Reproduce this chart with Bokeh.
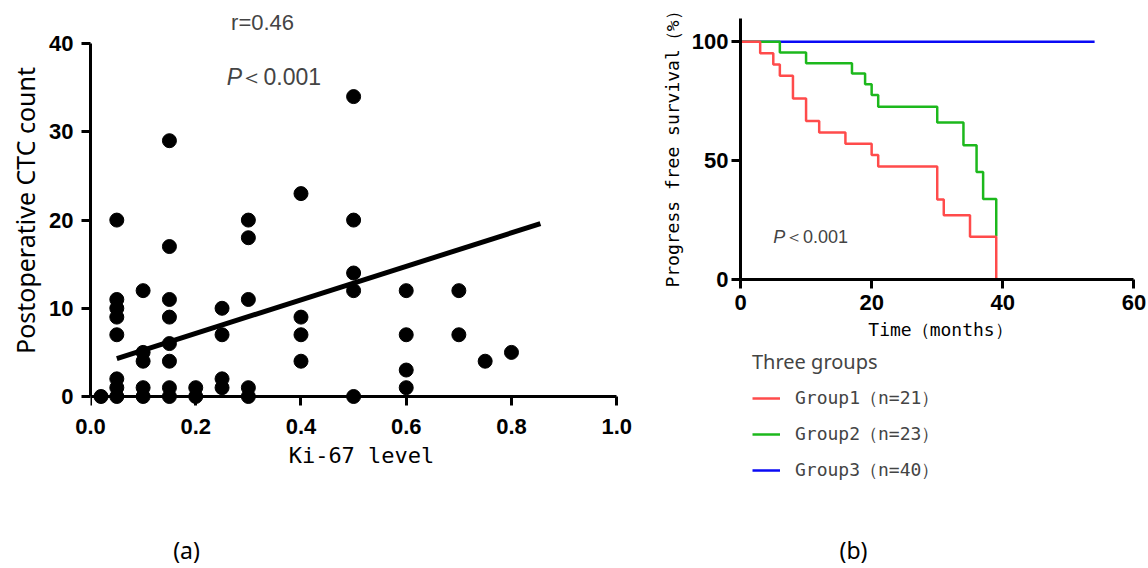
from bokeh.plotting import figure
from bokeh.models import Range1d, Label, Legend, LegendItem, FixedTicker, LinearAxis
from bokeh.layouts import row, column
from bokeh.core.properties import value
from bokeh.embed import file_html
from bokeh.resources import INLINE

# ---------------- data: panel (a) ----------------
ki67_level = [0.02,
              0.05, 0.05, 0.05, 0.05, 0.05, 0.05, 0.05, 0.05,
              0.10, 0.10, 0.10, 0.10, 0.10,
              0.15, 0.15, 0.15, 0.15, 0.15, 0.15, 0.15, 0.15,
              0.20, 0.20,
              0.25, 0.25, 0.25, 0.25,
              0.30, 0.30, 0.30, 0.30, 0.30,
              0.40, 0.40, 0.40, 0.40,
              0.50, 0.50, 0.50, 0.50, 0.50,
              0.60, 0.60, 0.60, 0.60,
              0.70, 0.70,
              0.75,
              0.80]
ctc_count = [0,
             20, 11, 10, 9, 7, 2, 1, 0,
             12, 5, 4, 1, 0,
             29, 17, 11, 9, 6, 4, 1, 0,
             1, 0,
             10, 7, 2, 1,
             20, 18, 11, 1, 0,
             23, 9, 7, 4,
             34, 20, 14, 12, 0,
             12, 7, 3, 1,
             12, 7,
             4,
             5]
fit_x = [0.05, 0.855]
fit_y = [4.3, 19.6]
a_xticks = [0.0, 0.2, 0.4, 0.6, 0.8, 1.0]
a_xtick_labels = ["0.0", "0.2", "0.4", "0.6", "0.8", "1.0"]
a_yticks = [0, 10, 20, 30, 40]

# ---------------- data: panel (b) ----------------
g1_time = [0, 3, 5, 6, 8, 10, 12, 16, 20, 21, 30, 31, 35, 39]
g1_surv = [100, 95.2, 90.5, 85.7, 76.2, 66.7, 61.9, 57.1, 52.4, 47.6, 33.7, 27.0, 18.0, 0]
g2_time = [0, 6, 10, 17, 19, 20, 21, 30, 34, 36, 37, 39]
g2_surv = [100, 95.5, 91.0, 86.7, 82.2, 77.6, 72.7, 66.1, 56.5, 45.2, 33.9, 18.2]
g3_time = [0, 54]
g3_surv = [100, 100]
group_labels = ["Group1（n=21）", "Group2（n=23）", "Group3（n=40）"]
group_colors = ["#FF4B4B", "#1CB81C", "#0A0AF5"]
b_xticks = [0, 20, 40, 60]
b_yticks = [0, 50, 100]

panel_captions = ["(a)", "(b)"]

TICK_FONT = "Liberation Sans"


def style_axis(ax, tick_size="22px"):
    ax.axis_line_width = 3
    ax.major_tick_line_width = 3
    ax.major_tick_out = 9
    ax.major_tick_in = 0
    ax.minor_tick_line_color = None
    ax.major_label_text_font = TICK_FONT
    ax.major_label_text_font_style = "bold"
    ax.major_label_text_font_size = tick_size
    ax.major_label_text_color = "black"
    ax.axis_label_text_font_style = "normal"
    ax.axis_label_text_color = "black"


def clean(p):
    p.xgrid.visible = False
    p.ygrid.visible = False
    p.outline_line_color = None


# ================= panel (a) =================
p1 = figure(frame_width=542, frame_height=400,
            x_range=Range1d(0, 1.03), y_range=Range1d(-1.587, 43.76),
            min_border_left=90, min_border_right=18, min_border_top=10, min_border_bottom=70,
            output_backend="svg", toolbar_location=None)
clean(p1)
style_axis(p1.xaxis[0])
style_axis(p1.yaxis[0])
# label-bearing x axis at the frame bottom (no line / ticks)
p1.xaxis.ticker = FixedTicker(ticks=a_xticks)
p1.xaxis.major_label_overrides = {t: l for t, l in zip(a_xticks, a_xtick_labels)}
p1.xaxis.axis_line_color = None
p1.xaxis.major_tick_line_color = None
p1.xaxis.major_tick_out = 0
p1.xaxis.major_label_standoff = 8
p1.xaxis.axis_label = "Ki-67 level"
p1.xaxis.axis_label_text_font = "DejaVu Sans Mono"
p1.xaxis.axis_label_text_font_size = "22px"
p1.xaxis.axis_label_standoff = 6
# axis line + ticks drawn at y = 0
x0_axis = LinearAxis(fixed_location=0, ticker=FixedTicker(ticks=a_xticks), bounds=(0, 1.0))
style_axis(x0_axis)
x0_axis.major_label_text_color = None
x0_axis.major_label_text_font_size = "1px"
p1.add_layout(x0_axis, "below")

p1.yaxis.ticker = FixedTicker(ticks=a_yticks)
p1.yaxis.bounds = (0, 40)
p1.yaxis.major_label_standoff = 8
p1.yaxis.axis_label = "Postoperative CTC count"
p1.yaxis.axis_label_text_font = "Noto Sans"
p1.yaxis.axis_label_text_font_size = "25px"
p1.yaxis.axis_label_standoff = 4

p1.line(fit_x, fit_y, line_color="black", line_width=5)
p1.scatter(ki67_level, ctc_count, size=14, fill_color="black", line_color="black")

p1.add_layout(Label(x=0.327, y=42.4, text="r=0.46", text_font="Liberation Sans",
                    text_font_size="22px", text_align="center", text_baseline="middle"))
p1.add_layout(Label(x=0.259, y=36.2, text="P", text_font="Liberation Sans",
                    text_font_style="italic", text_font_size="23px",
                    text_align="left", text_baseline="middle"))
p1.add_layout(Label(x=0.285, y=36.2, text="＜0.001", text_font="Liberation Sans",
                    text_font_size="23px", text_align="left", text_baseline="middle"))

# ================= panel (b) =================
p2 = figure(frame_width=400, frame_height=269,
            x_range=Range1d(0, 61), y_range=Range1d(0, 113.2),
            min_border_left=90, min_border_right=6, min_border_top=10, min_border_bottom=67,
            output_backend="svg", toolbar_location=None)
clean(p2)
style_axis(p2.xaxis[0])
style_axis(p2.yaxis[0])
p2.xaxis.ticker = FixedTicker(ticks=b_xticks)
p2.yaxis.ticker = FixedTicker(ticks=b_yticks)
p2.xaxis.bounds = (0, 60)
p2.yaxis.bounds = (0, 110)
p2.xaxis.major_label_standoff = 6
p2.yaxis.major_label_standoff = 3
p2.xaxis.axis_label = "Time（months）"
p2.xaxis.axis_label_text_font = "DejaVu Sans Mono"
p2.xaxis.axis_label_text_font_size = "18px"
p2.xaxis.axis_label_standoff = 6
p2.yaxis.axis_label = "Progress free survival（%）"
p2.yaxis.axis_label_text_font = "DejaVu Sans Mono"
p2.yaxis.axis_label_text_font_size = "18px"
p2.yaxis.axis_label_standoff = 6

p2.step(g3_time, g3_surv, mode="after", line_color=group_colors[2], line_width=2.5)
p2.step(g2_time, g2_surv, mode="after", line_color=group_colors[1], line_width=2.5)
p2.step(g1_time, g1_surv, mode="after", line_color=group_colors[0], line_width=2.5)

p2.add_layout(Label(x=5.0, y=17.8, text="P", text_font="Liberation Sans",
                    text_font_style="italic", text_font_size="18px",
                    text_align="left", text_baseline="middle"))
p2.add_layout(Label(x=6.8, y=17.8, text="＜0.001", text_font="Liberation Sans",
                    text_font_size="18px", text_align="left", text_baseline="middle"))

# ================= legend of panel (b) (own figure, series kept out of view) =================
leg_fig = figure(width=496, height=134, x_range=Range1d(0, 61), y_range=Range1d(-1000, -900),
                 x_axis_type=None, y_axis_type=None, min_border=0, min_border_left=90,
                 output_backend="svg", toolbar_location=None)
leg_fig.outline_line_color = None
l1 = leg_fig.step(g1_time, g1_surv, mode="after", line_color=group_colors[0], line_width=2.5)
l2 = leg_fig.step(g2_time, g2_surv, mode="after", line_color=group_colors[1], line_width=2.5)
l3 = leg_fig.step(g3_time, g3_surv, mode="after", line_color=group_colors[2], line_width=2.5)
legend = Legend(items=[LegendItem(label=group_labels[0], renderers=[l1]),
                       LegendItem(label=group_labels[1], renderers=[l2]),
                       LegendItem(label=group_labels[2], renderers=[l3])],
                location=(12, -2), title="Three groups")
legend.background_fill_alpha = 0
legend.border_line_color = None
legend.padding = 0
legend.margin = 0
legend.spacing = 12
legend.label_height = 20
legend.glyph_height = 20
legend.glyph_width = 28
legend.label_standoff = 15
legend.label_text_font = "DejaVu Sans Mono"
legend.label_text_font_size = "18px"
legend.title_text_font = "Noto Sans"
legend.title_text_font_size = "20px"
legend.title_text_font_style = "normal"
legend.title_standoff = 11
leg_fig.add_layout(legend)

# ================= caption strip =================
strip = figure(width=1146, height=86, x_range=Range1d(0, 1146), y_range=Range1d(0, 86),
               x_axis_type=None, y_axis_type=None, min_border=0,
               output_backend="svg", toolbar_location=None)
strip.outline_line_color = None
strip.text(x=[186, 853], y=[17, 17], text=panel_captions,
           text_font=value("Noto Sans"), text_font_size=value("23px"),
           text_align="center", text_baseline="middle", text_color="black")

layout = column(row(p1, column(p2, leg_fig)), strip)
open("out.html", "w").write(file_html(layout, INLINE))
